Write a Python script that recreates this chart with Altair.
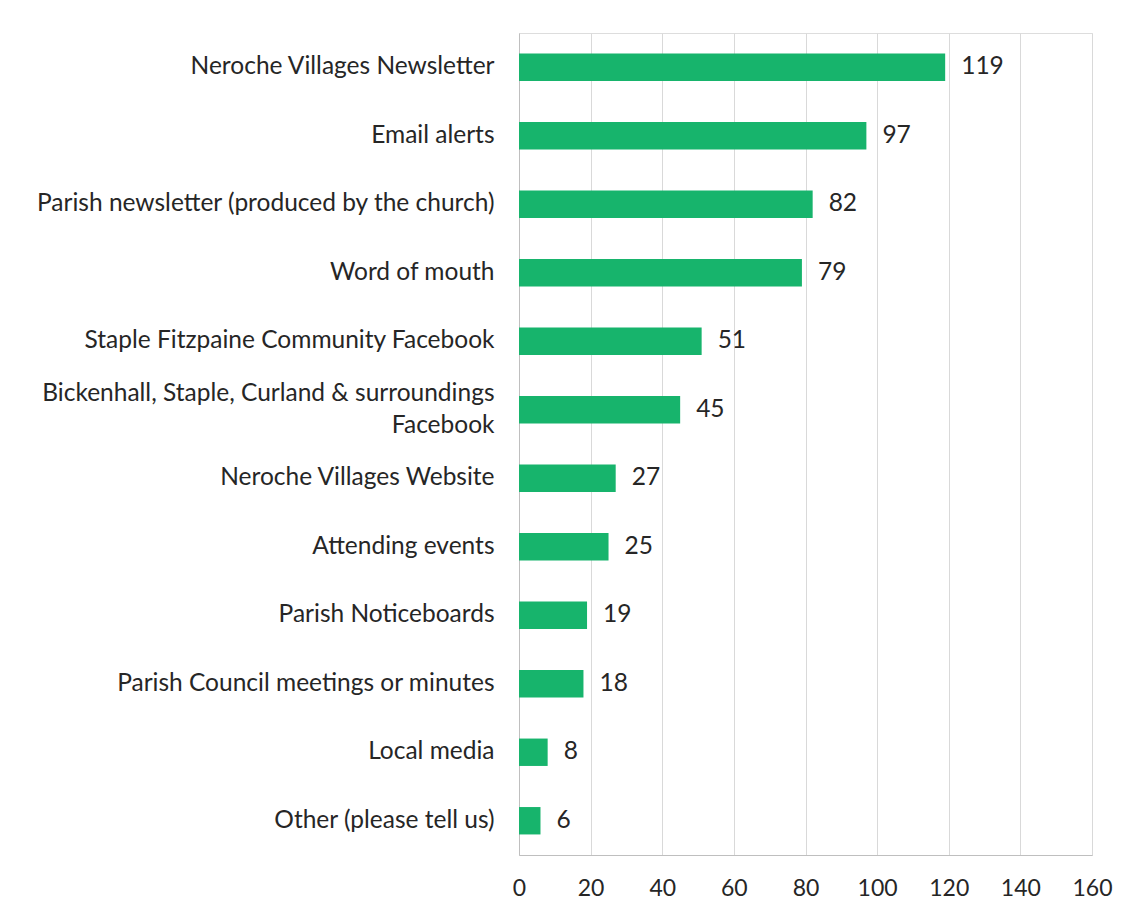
import altair as alt
import pandas as pd

categories = [
    "Neroche Villages Newsletter",
    "Email alerts",
    "Parish newsletter (produced by the church)",
    "Word of mouth",
    "Staple Fitzpaine Community Facebook",
    "Bickenhall, Staple, Curland & surroundings|Facebook",
    "Neroche Villages Website",
    "Attending events",
    "Parish Noticeboards",
    "Parish Council meetings or minutes",
    "Local media",
    "Other (please tell us)",
]
values = [119, 97, 82, 79, 51, 45, 27, 25, 19, 18, 8, 6]
x_ticks = [0, 20, 40, 60, 80, 100, 120, 140, 160]

df = pd.DataFrame({"cat": categories, "val": values})

FONT = "Lato"
FS = 24.5
GREEN = "#17B46C"
TXT = "#262626"

y_enc = alt.Y(
    "cat:N",
    sort=categories,
    scale=alt.Scale(paddingInner=0.6, paddingOuter=0.3),
    axis=alt.Axis(
        title=None,
        labelExpr="split(datum.label, '|')",
        labelFont=FONT,
        labelFontSize=FS,
        labelColor=TXT,
        labelPadding=25,
        labelLimit=700,
        ticks=False,
        domainColor="#BFBFBF",
        domainWidth=1,
        minExtent=511,
        maxExtent=511,
        labelLineHeight=32,
        labelOffset={
            "condition": {"test": "indexof(datum.value, 'Bickenhall') >= 0", "value": -16},
            "value": 0,
        },
    ),
)

x_enc = alt.X(
    "val:Q",
    scale=alt.Scale(domain=[0, 160]),
    axis=alt.Axis(
        title=None,
        values=x_ticks,
        labelFont=FONT,
        labelFontSize=23,
        labelColor=TXT,
        labelPadding=22,
        labelFlush=False,
        labelOverlap=False,
        ticks=False,
        grid=True,
        gridColor="#D9D9D9",
        gridWidth=1,
        domainColor="#BFBFBF",
        domainWidth=1,
    ),
)

bars = alt.Chart(df).mark_bar(color=GREEN).encode(x=x_enc, y=y_enc)
labels = alt.Chart(df).mark_text(
    align="left", baseline="middle", dx=16, font=FONT, fontSize=FS, color=TXT
).encode(x="val:Q", y=alt.Y("cat:N", sort=categories), text="val:Q")

chart = (
    (bars + labels)
    .properties(width=573, height=822, padding={"left": 0, "top": 25, "right": 2, "bottom": 2})
    .configure_view(stroke=None)
    .configure(background="white")
)

chart.save("out.html", embed_options={"renderer": "svg", "actions": False})
